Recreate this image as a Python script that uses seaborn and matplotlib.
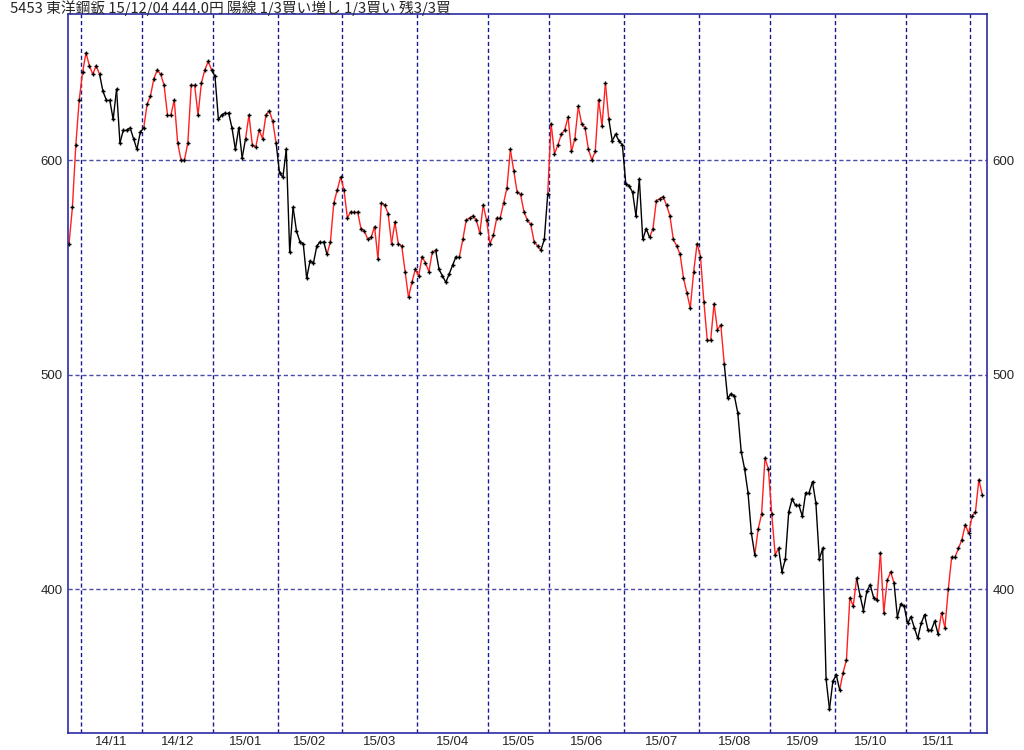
import matplotlib
matplotlib.use("Agg")
import matplotlib.pyplot as plt
import numpy as np
import pandas as pd
import seaborn as sns

# daily closes, 2014/10/29 .. 2015/12/04
prices = [
    561, 578, 607, 628, 641, 650, 644, 640, 644, 640,
    632, 628, 628, 619, 633, 608, 614, 614, 615, 610,
    605, 613, 615, 626, 630, 638, 642, 640, 635, 621,
    621, 628, 608, 600, 600, 608, 635, 635, 621, 636,
    642, 646, 642, 639, 619, 621, 622, 622, 615, 605,
    615, 601, 610, 621, 607, 606, 614, 610, 621, 623,
    618, 608, 594, 592, 605, 557, 578, 567, 562, 561,
    545, 553, 552, 560, 562, 562, 556, 562, 580, 586,
    592, 586, 573, 576, 576, 576, 568, 567, 563, 564,
    569, 554, 580, 579, 575, 561, 571, 561, 560, 548,
    536, 543, 549, 546, 555, 552, 548, 557, 558, 549,
    546, 543, 547, 551, 555, 555, 563, 572, 573, 574,
    572, 566, 579, 572, 561, 565, 573, 573, 580, 587,
    605, 595, 585, 584, 576, 572, 570, 562, 560, 558,
    563, 584, 617, 603, 607, 612, 614, 620, 604, 610,
    625, 617, 615, 605, 600, 604, 628, 616, 636, 619,
    609, 612, 609, 607, 589, 588, 585, 574, 591, 563,
    568, 564, 568, 581, 582, 583, 579, 574, 563, 560,
    556, 545, 538, 531, 548, 561, 555, 534, 516, 516,
    533, 521, 523, 505, 489, 491, 490, 482, 464, 456,
    445, 426, 416, 428, 435, 461, 456, 435, 416, 419,
    408, 414, 436, 442, 439, 439, 434, 445, 445, 450,
    440, 414, 419, 358, 344, 357, 360, 353, 361, 367,
    396, 392, 405, 397, 390, 399, 402, 396, 395, 417,
    389, 404, 408, 403, 387, 393, 392, 384, 387, 382,
    377, 384, 388, 381, 381, 385, 379, 389, 382, 400,
    415, 415, 419, 423, 430, 426, 434, 436, 451, 444,
]

# day ranges (inclusive) drawn as 陽線 (red)
bull_runs = [(1, 9), (23, 42), (53, 61), (77, 108), (116, 139), (142, 159),
             (172, 193), (203, 209), (228, 232), (239, 243), (257, 269)]

# first trading day index of each month
month_starts = [4, 22, 43, 62, 81, 103, 124, 142, 164, 186, 207, 226, 247, 266]
month_labels = ["14/11", "14/12", "15/01", "15/02", "15/03", "15/04", "15/05",
                "15/06", "15/07", "15/08", "15/09", "15/10", "15/11"]

y_ticks = [400, 500, 600]
title = "5453 東洋鋼鈑 15/12/04 444.0円 陽線 1/3買い増し 1/3買い 残3/3買"

bull = set()
for a, b in bull_runs:
    bull.update(range(a, b + 1))

rows = []
for i in range(1, len(prices)):
    kind = "up" if i in bull else "down"
    rows.append((i, i - 1, prices[i - 1], kind))
    rows.append((i, i, prices[i], kind))
seg = pd.DataFrame(rows, columns=["seg", "day", "price", "kind"])
pts = pd.DataFrame({"day": np.arange(len(prices)), "price": prices})

sns.set_style("white")
plt.rcParams["font.family"] = ["Liberation Sans", "DejaVu Sans"]

fig = plt.figure(figsize=(10.24, 7.5), dpi=100)
ax = fig.add_axes([68 / 1024, 17 / 750, 919 / 1024, 719 / 750])

sns.lineplot(data=seg, x="day", y="price", hue="kind", units="seg",
             estimator=None, sort=False, palette={"up": "#ff2020", "down": "#000000"},
             linewidth=1.0, legend=False, ax=ax)
sns.scatterplot(data=pts, x="day", y="price", marker="+", s=12, color="black",
                linewidth=1.0, ax=ax, zorder=3)

ax.set_xlim(-0.3, 270.4)
ax.set_ylim(332.9, 668.1)

bounds = [m - 0.5 for m in month_starts]
mids = [(bounds[k] + bounds[k + 1]) / 2 for k in range(len(month_labels))]
ax.set_xticks(bounds)
ax.set_xticklabels([])
ax.set_xticks(mids, minor=True)
ax.set_xticklabels(month_labels, minor=True)
ax.set_yticks(y_ticks)
ax.set_yticklabels([str(v) for v in y_ticks])

ax.grid(False)
for b in bounds:
    ax.axvline(b, color="#1a1a8c", lw=1.0, ls=(0, (3, 2)), zorder=1)
for v in y_ticks:
    ax.axhline(v, color="#4a4aa8", lw=1.0, ls=(0, (3, 2)), zorder=1)

ax.tick_params(axis="x", which="both", length=0, pad=2, labelsize=9.5)
ax.tick_params(axis="y", length=0, pad=4, labelsize=9.5, labelright=True)
ax.set_xlabel("")
ax.set_ylabel("")
for s in ax.spines.values():
    s.set_visible(True)
    s.set_color("#2b2ba6")
    s.set_linewidth(1.2)

fig.text(10 / 1024, 1 - 8 / 750, title, ha="left", va="center", fontsize=10.6,
         family=["Noto Sans CJK JP", "DejaVu Sans"])

fig.savefig("out.png", dpi=100)
